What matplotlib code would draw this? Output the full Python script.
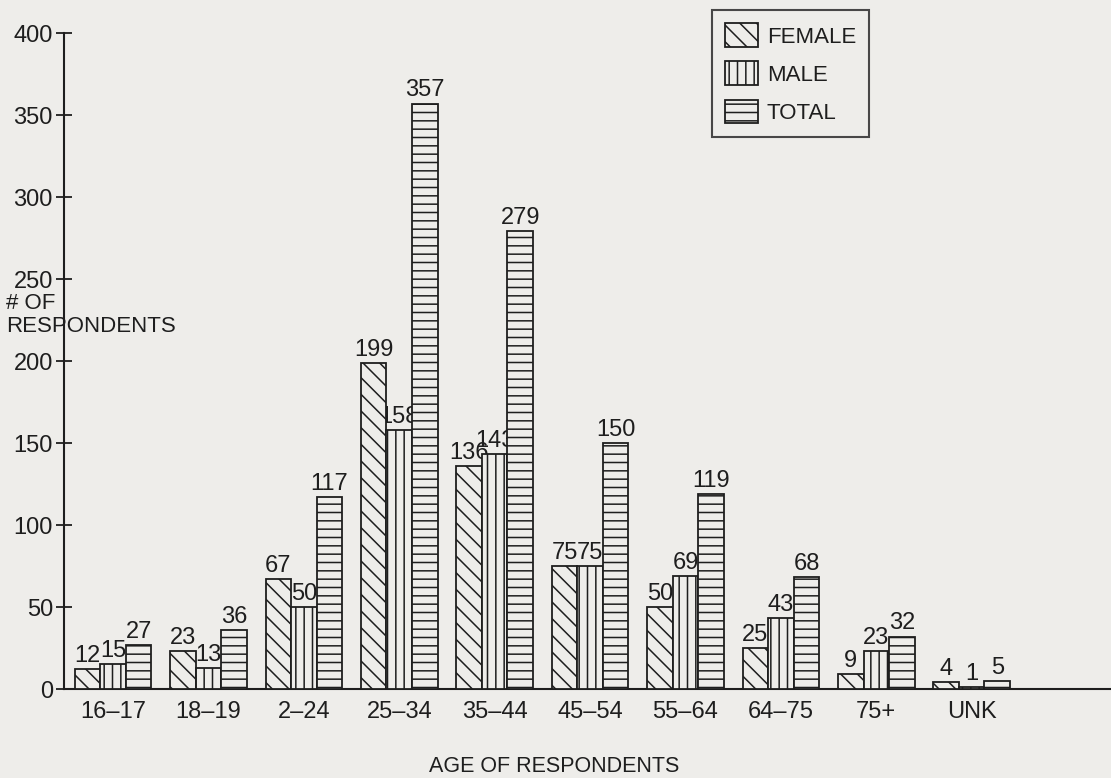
import matplotlib
matplotlib.use("Agg")
import matplotlib.pyplot as plt
from matplotlib.patches import Patch
import numpy as np

categories = ["16–17", "18–19", "2–24", "25–34", "35–44", "45–54", "55–64", "64–75", "75+", "UNK"]
female = [12, 23, 67, 199, 136, 75, 50, 25, 9, 4]
male = [15, 13, 50, 158, 143, 75, 69, 43, 23, 1]
total = [27, 36, 117, 357, 279, 150, 119, 68, 32, 5]
series_names = ["FEMALE", "MALE", "TOTAL"]
yticks = [0, 50, 100, 150, 200, 250, 300, 350, 400]

BG = "#eeedea"
INK = "#1e1e1e"
FONT = ["Liberation Sans", "DejaVu Sans"]
plt.rcParams["font.family"] = FONT
plt.rcParams["hatch.linewidth"] = 1.1
plt.rcParams["hatch.color"] = INK

fig = plt.figure(figsize=(11.11, 7.78), dpi=100, facecolor=BG)
ax = fig.add_axes([64/1111, 1-689/778, 1-64/1111, (689-33)/778])
ax.set_facecolor(BG)

x = np.arange(len(categories))
w = 0.268
hatches = ["\\\\", "||", "--"]
data = [female, male, total]
offsets = [-w, 0, w]
for vals, off, h in zip(data, offsets, hatches):
    ax.bar(x + off, vals, width=w, facecolor=BG, edgecolor=INK,
           linewidth=1.3, hatch=h, zorder=3)
    for xi, v in zip(x + off, vals):
        ax.annotate(str(v), (xi, v), xytext=(0, 1.5), textcoords="offset points",
                    ha="center", va="bottom", fontsize=17, color=INK, zorder=1)

ax.set_xlim(-0.514, 10.46)
ax.set_ylim(0, 400)
ax.set_xticks(x)
ax.set_xticklabels(categories, fontsize=17, color=INK)
ax.set_yticks(yticks)
ax.set_yticklabels([str(t) for t in yticks], fontsize=17, color=INK)
ax.tick_params(axis="x", length=0, pad=9)
ax.tick_params(axis="y", direction="inout", length=12, width=1.3, pad=2, color=INK)
for s in ["top", "right"]:
    ax.spines[s].set_visible(False)
for s in ["left", "bottom"]:
    ax.spines[s].set_linewidth(1.5)
    ax.spines[s].set_color(INK)

fig.text(554/1111, 1-767/778, "AGE OF RESPONDENTS", ha="center", va="center",
         fontsize=15.5, color=INK)
fig.text(6/1111, 1-293/778, "# OF\nRESPONDENTS", ha="left", va="top",
         fontsize=16, color=INK, linespacing=1.1)

handles = [Patch(facecolor=BG, edgecolor=INK, hatch=h, linewidth=1.3) for h in hatches]
leg = fig.legend(handles, series_names, loc="upper left",
                 bbox_to_anchor=(712/1111, 1-10/778), bbox_transform=fig.transFigure,
                 borderaxespad=0, fontsize=16, frameon=True, fancybox=False,
                 handlelength=1.45, handleheight=1.27, labelspacing=0.62,
                 handletextpad=0.42, borderpad=0.6)
leg.get_frame().set_edgecolor(INK)
leg.get_frame().set_facecolor(BG)
leg.get_frame().set_linewidth(1.5)
for t in leg.get_texts():
    t.set_color(INK)

fig.savefig("out.png", dpi=100, facecolor=BG)
